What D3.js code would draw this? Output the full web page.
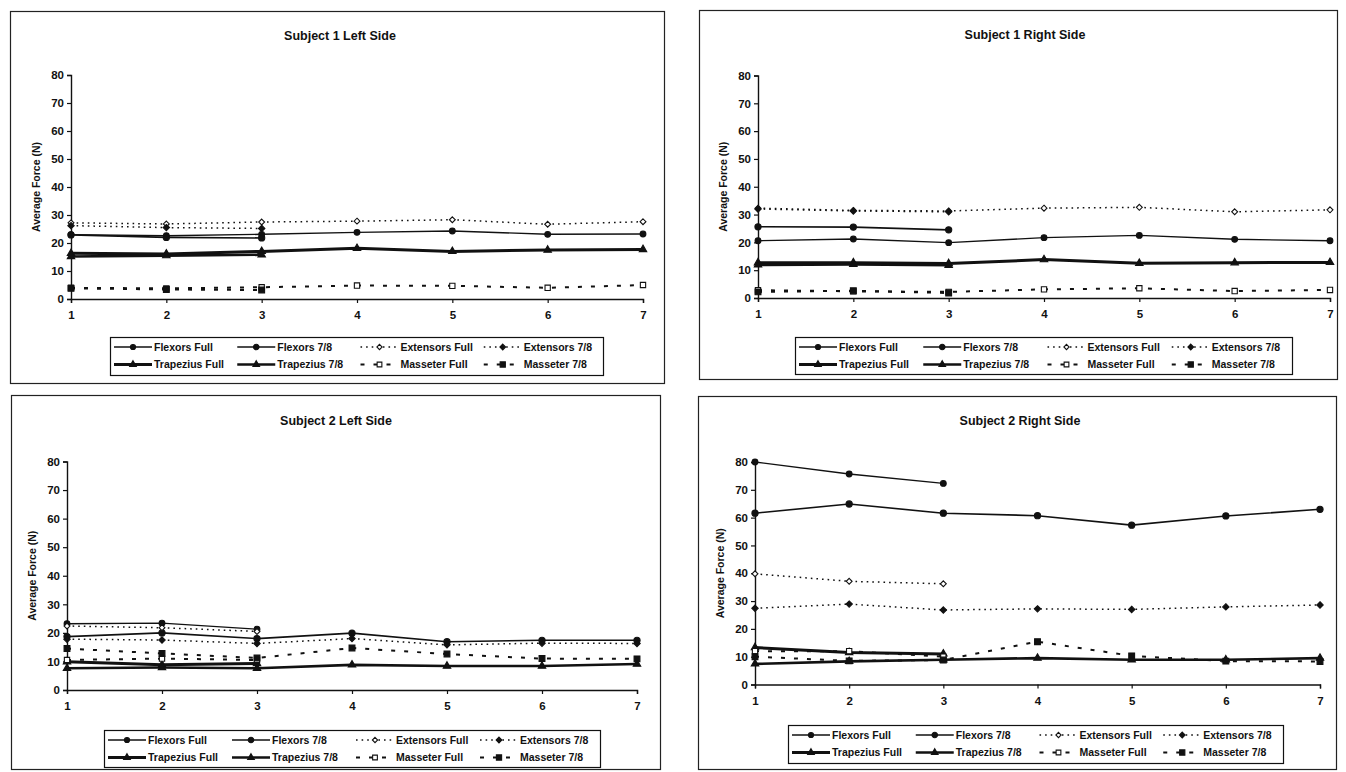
<!DOCTYPE html>
<html><head><meta charset="utf-8">
<script src="https://cdn.jsdelivr.net/npm/d3@7/dist/d3.min.js"></script>
<style>
html,body{margin:0;padding:0;background:#fff;}
svg{display:block;font-family:"Liberation Sans",Arial,sans-serif;}
</style></head>
<body><svg id="c" width="1346" height="772"></svg>
<script>
// ---- data ----
const trials = [1, 2, 3, 4, 5, 6, 7];
const yTicks = [0, 10, 20, 30, 40, 50, 60, 70, 80];
const seriesNames = ["Flexors Full", "Flexors 7/8", "Extensors Full", "Extensors 7/8",
                     "Trapezius Full", "Trapezius 7/8", "Masseter Full", "Masseter 7/8"];
const titles = ["Subject 1 Left Side", "Subject 1 Right Side", "Subject 2 Left Side", "Subject 2 Right Side"];

// Subject 1 Left
const s1L_flexFull = [23.0, 22.6, 23.1, 23.8, 24.3, 23.1, 23.2];
const s1L_flex78   = [22.9, 22.0, 21.8];
const s1L_extFull  = [27.2, 26.8, 27.5, 27.8, 28.3, 26.7, 27.6];
const s1L_ext78    = [26.2, 25.5, 25.2];
const s1L_trapFull = [16.3, 16.1, 17.0, 18.1, 17.0, 17.5, 17.7];
const s1L_trap78   = [15.2, 15.5, 15.8];
const s1L_massFull = [4.0, 3.8, 4.2, 4.8, 4.7, 4.0, 5.0];
const s1L_mass78   = [3.8, 3.4, 3.2];
// Subject 1 Right
const s1R_flexFull = [20.6, 21.2, 19.9, 21.7, 22.5, 21.1, 20.6];
const s1R_flex78   = [25.6, 25.5, 24.5];
const s1R_extFull  = [32.3, 31.5, 31.3, 32.3, 32.6, 31.0, 31.7];
const s1R_ext78    = [32.0, 31.3, 31.0];
const s1R_trapFull = [12.7, 12.7, 12.4, 13.8, 12.5, 12.7, 12.8];
const s1R_trap78   = [11.9, 12.1, 11.8];
const s1R_massFull = [2.8, 2.4, 2.2, 3.1, 3.5, 2.5, 2.9];
const s1R_mass78   = [2.2, 2.6, 1.8];
// Subject 2 Left
const s2L_flexFull = [23.2, 23.4, 21.3];
const s2L_flex78   = [18.7, 20.0, 18.0, 19.9, 16.9, 17.4, 17.4];
const s2L_extFull  = [22.4, 21.8, 20.5];
const s2L_ext78    = [17.8, 17.5, 16.3, 18.0, 15.8, 16.4, 16.3];
const s2L_trapFull = [9.9, 8.8, 9.3];
const s2L_trap78   = [7.6, 7.9, 7.6, 8.8, 8.4, 8.4, 9.1];
const s2L_massFull = [10.5, 11.0, 10.5];
const s2L_mass78   = [14.5, 12.8, 11.2, 14.7, 12.6, 11.0, 10.9];
// Subject 2 Right
const s2R_flexFull = [80.0, 75.7, 72.3];
const s2R_flex78   = [61.6, 64.9, 61.6, 60.7, 57.3, 60.6, 63.0];
const s2R_extFull  = [39.8, 37.1, 36.2];
const s2R_ext78    = [27.4, 28.9, 26.8, 27.2, 27.0, 27.9, 28.6];
const s2R_trapFull = [13.3, 11.5, 11.0];
const s2R_trap78   = [7.4, 8.3, 8.9, 9.5, 8.9, 8.9, 9.5];
const s2R_massFull = [12.0, 12.0, 10.0];
const s2R_mass78   = [10.0, 8.5, 8.8, 15.4, 10.3, 8.4, 8.3];

const panelData = [
  [s1L_flexFull, s1L_flex78, s1L_extFull, s1L_ext78, s1L_trapFull, s1L_trap78, s1L_massFull, s1L_mass78],
  [s1R_flexFull, s1R_flex78, s1R_extFull, s1R_ext78, s1R_trapFull, s1R_trap78, s1R_massFull, s1R_mass78],
  [s2L_flexFull, s2L_flex78, s2L_extFull, s2L_ext78, s2L_trapFull, s2L_trap78, s2L_massFull, s2L_mass78],
  [s2R_flexFull, s2R_flex78, s2R_extFull, s2R_ext78, s2R_trapFull, s2R_trap78, s2R_massFull, s2R_mass78]
];

// ---- styles per series ----
const diamond = d3.symbolDiamond2 || d3.symbolDiamond;
const styles = [
  {w:1.4, dash:null,     sym:d3.symbolCircle,   size:26, fill:"#111"},
  {w:1.6, dash:null,     sym:d3.symbolCircle,   size:30, fill:"#111"},
  {w:1.5, dash:"1.6,4",  sym:diamond,           size:22, fill:"#fff"},
  {w:1.5, dash:"1.6,4",  sym:diamond,           size:26, fill:"#111"},
  {w:3.0, dash:null,     sym:d3.symbolTriangle, size:24, fill:"#111"},
  {w:2.6, dash:null,     sym:d3.symbolTriangle, size:24, fill:"#111"},
  {w:2.0, dash:"4,9",    sym:d3.symbolSquare,   size:28, fill:"#fff"},
  {w:2.0, dash:"4,9",    sym:d3.symbolSquare,   size:34, fill:"#111"}
];

// ---- layout ----
const layouts = [
  {bx:10.5, by:11.5, bw:654, bh:372, px0:71, px1:643, py0:299, py1:75,  tx:340, ty:40, ylx:40, lx:110, ly:337, lw:493, lh:38},
  {bx:699.5, by:10.5, bw:638, bh:369, px0:758, px1:1330, py0:298, py1:75.5, tx:1025, ty:39, ylx:727, lx:795, ly:337, lw:497, lh:37},
  {bx:11.5, by:395.5, bw:649, bh:374, px0:67, px1:637, py0:690, py1:461.5, tx:336, ty:425, ylx:36, lx:104, ly:730, lw:496, lh:37},
  {bx:698.5, by:396.5, bw:638, bh:373, px0:755, px1:1320, py0:684.5, py1:462, tx:1020, ty:425, ylx:724, lx:788, ly:725, lw:495, lh:38}
];

const svg = d3.select("#c");
svg.append("rect").attr("width",1346).attr("height",772).attr("fill","#fff");

layouts.forEach((L, pi) => {
  const g = svg.append("g");
  g.append("rect").attr("x",L.bx).attr("y",L.by).attr("width",L.bw).attr("height",L.bh)
    .attr("fill","none").attr("stroke","#222").attr("stroke-width",1.2);
  g.append("text").attr("x",L.tx).attr("y",L.ty).attr("text-anchor","middle")
    .attr("font-size",12.5).attr("font-weight","bold").attr("fill","#111").text(titles[pi]);

  const x = d3.scaleLinear().domain([1,7]).range([L.px0, L.px1]);
  const y = d3.scaleLinear().domain([0,80]).range([L.py0, L.py1]);

  const yAxis = d3.axisLeft(y).tickValues(yTicks).tickSize(4).tickPadding(3);
  const ya = g.append("g").attr("transform",`translate(${L.px0},0)`).call(yAxis);
  const xAxis = d3.axisBottom(x).tickValues(trials).tickSize(4).tickPadding(8).tickFormat(d3.format("d"));
  const xa = g.append("g").attr("transform",`translate(0,${L.py0})`).call(xAxis);
  [ya, xa].forEach(a => {
    a.select(".domain").attr("stroke","#111").attr("stroke-width",1.4);
    a.selectAll(".tick line").attr("stroke","#111").attr("stroke-width",1.2);
    a.selectAll(".tick text").attr("font-size",11.5).attr("font-weight","bold").attr("fill","#111")
      .attr("font-family","'Liberation Sans',Arial,sans-serif");
  });

  g.append("text").attr("transform",`translate(${L.ylx},${(L.py0+L.py1)/2}) rotate(-90)`)
    .attr("text-anchor","middle").attr("font-size",10.5).attr("font-weight","bold").attr("fill","#111")
    .text("Average Force (N)");

  const line = d3.line().x((d,i) => x(trials[i])).y(d => y(d));
  const series = panelData[pi];
  series.forEach((vals, si) => {
    const s = styles[si];
    g.append("path").datum(vals).attr("d", line).attr("fill","none").attr("stroke","#111")
      .attr("stroke-width", s.w).attr("stroke-dasharray", s.dash);
    g.selectAll(null).data(vals).enter().append("path")
      .attr("d", d3.symbol().type(s.sym).size(s.size))
      .attr("transform",(d,i)=>`translate(${x(trials[i])},${y(d)})`)
      .attr("fill", s.fill).attr("stroke","#111").attr("stroke-width",1.1);
  });

  // legend
  const lg = g.append("g");
  lg.append("rect").attr("x",L.lx+0.5).attr("y",L.ly+0.5).attr("width",L.lw).attr("height",L.lh)
    .attr("fill","#fff").attr("stroke","#111").attr("stroke-width",1.2);
  const colW = L.lw/4;
  seriesNames.forEach((name, si) => {
    const s = styles[si];
    const col = si % 4, row = Math.floor(si/4);
    const ex = L.lx + 4 + col*colW;
    const ey = L.ly + 10 + row*17.5;
    lg.append("line").attr("x1",ex).attr("x2",ex+38).attr("y1",ey).attr("y2",ey)
      .attr("stroke","#111").attr("stroke-width",s.w).attr("stroke-dasharray",s.dash);
    lg.append("path").attr("d", d3.symbol().type(s.sym).size(s.size*0.8))
      .attr("transform",`translate(${ex+19},${ey})`)
      .attr("fill", s.fill).attr("stroke","#111").attr("stroke-width",1.1);
    lg.append("text").attr("x",ex+40).attr("y",ey+3.8).attr("font-size",10.5).attr("font-weight","bold")
      .attr("fill","#111").text(name);
  });
});
</script></body></html>
